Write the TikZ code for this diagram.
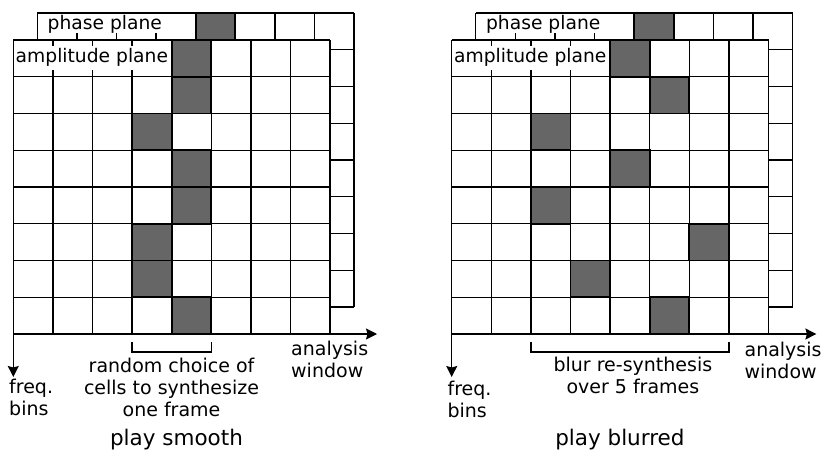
\documentclass[tikz,border=0pt]{standalone}
\usepackage{fontspec}
\setmainfont{DejaVu Sans}
\usetikzlibrary{arrows.meta}
\definecolor{cellshade}{HTML}{666666}
\newcommand\cw{39.6}
\newcommand\ch{36.75}
% #1 = list of shaded amplitude cells col/row, #2 = shaded phase column
\newcommand\drawplanes[2]{%
  % phase plane
  \fill[white] (37.3,13) rectangle ++(8*\cw,8*\ch);
  \fill[cellshade] (37.3+#2*\cw,13) rectangle ++(\cw,\ch);
  \foreach \i in {0,...,8} {\draw[gridline] (37.3+\i*\cw,13) -- ++(0,8*\ch);}
  \foreach \j in {0,...,8} {\draw[gridline] (37.3,13+\j*\ch) -- ++(8*\cw,0);}
  \draw[hotedge] (37.3+#2*\cw,13) rectangle ++(\cw,\ch);
  \fill[white] (38.5,14.2) rectangle (194.5,33);
  % amplitude plane
  \fill[white] (13.3,40) rectangle ++(8*\cw,8*\ch);
  \foreach \c/\r in {#1} {\fill[cellshade] (13.3+\c*\cw,40+\r*\ch) rectangle ++(\cw,\ch);}
  \foreach \i in {0,...,8} {\draw[gridline] (13.3+\i*\cw,40) -- ++(0,8*\ch);}
  \foreach \j in {0,...,8} {\draw[gridline] (13.3,40+\j*\ch) -- ++(8*\cw,0);}
  \foreach \c/\r in {#1} {\draw[hotedge] (13.3+\c*\cw,40+\r*\ch) rectangle ++(\cw,\ch);}
  \fill[white] (14.5,45.5) rectangle (170.5,70);
}
\begin{document}
\begin{tikzpicture}[x=1pt,y=-1pt,
  gridline/.style={line width=1.3pt, black},
  hotedge/.style={line width=1.7pt, black},
  lbl/.style={font=\fontsize{19}{22}\selectfont, inner sep=0pt},
  planelbl/.style={font=\fontsize{18.7}{22}\selectfont, inner sep=0pt, anchor=west},
  titlelbl/.style={font=\fontsize{21.5}{25}\selectfont, inner sep=0pt},
  axis/.style={line width=1.3pt, -{Stealth[length=11pt,width=11pt,inset=1.5pt]}},
]
\useasboundingbox (0,0) rectangle (821,455);

% ---------- left panel: play smooth ----------
\begin{scope}
  \drawplanes{4/0,4/1,3/2,4/3,4/4,3/5,3/6,4/7}{4}
  \node[planelbl] (phaseL) at (47.5,24) {phase plane};
  \node[planelbl] (ampL) at (15.5,57.5) {amplitude plane};
  \coordinate (oL) at (13.3,334);
  \coordinate (hxL) at (377,334);
  \coordinate (vyL) at (13.3,377);
  \draw[axis] (oL) -- (hxL);
  \draw[axis] (oL) -- (vyL);
  \coordinate (b1L) at (132.1,342);
  \coordinate (b2L) at (211.3,342);
  \draw[gridline] (b1L) -- ++(0,10) -| (b2L);
  \node[lbl, align=center] (randL) at (171.5,387) {random choice of\\cells to synthesize\\one frame};
  \node[lbl, align=left, anchor=north west] (freqL) at (9,379) {freq.\\bins};
  \node[lbl, align=left, anchor=north west] (anaL) at (291,341) {analysis\\window};
  \node[titlelbl] (titleL) at (176.5,439.5) {play smooth};
\end{scope}

% ---------- right panel: play blurred ----------
\begin{scope}[xshift=438.4pt]
  \drawplanes{4/0,5/1,2/2,4/3,2/4,6/5,3/6,5/7}{4}
  \node[planelbl] (phaseR) at (47.5,24) {phase plane};
  \node[planelbl] (ampR) at (15.5,57.5) {amplitude plane};
  \coordinate (oR) at (13.3,334);
  \coordinate (hxR) at (378,334);
  \coordinate (vyR) at (13.3,377);
  \draw[axis] (oR) -- (hxR);
  \draw[axis] (oR) -- (vyR);
  \coordinate (b1R) at (92.5,342);
  \coordinate (b2R) at (290.5,342);
  \draw[gridline] (b1R) -- ++(0,10) -| (b2R);
  \node[lbl, align=center] (blurR) at (194.5,375) {blur re-synthesis\\over 5 frames};
  \node[lbl, align=left, anchor=north west] (freqR) at (9,381) {freq.\\bins};
  \node[lbl, align=left, anchor=north west] (anaR) at (306,342) {analysis\\window};
  \node[titlelbl] (titleR) at (181.5,439.5) {play blurred};
\end{scope}
\end{tikzpicture}
\end{document}
